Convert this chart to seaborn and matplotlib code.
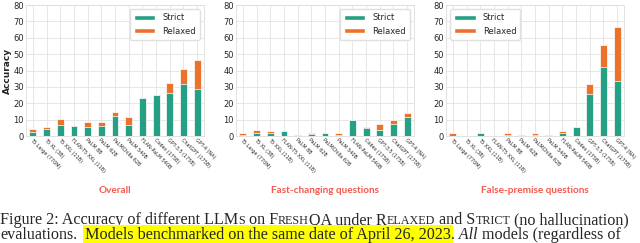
import matplotlib
matplotlib.use("Agg")
import matplotlib.pyplot as plt
import seaborn as sns
from matplotlib.patches import Patch

# Data
models = ["T5 Large (770M)", "T5 XL (3B)", "T5 XXL (11B)", "FLAN-T5 XXL (11B)",
          "PaLM 8B", "PaLM 62B", "PaLMChilla 62B", "PaLM 540B", "FLAN-PaLM 540B",
          "Codex (175B)", "GPT-3.5 (175B)", "ChatGPT (175B)", "GPT-4 (NA)"]

overall_strict = [2.4, 4.0, 6.6, 6.2, 5.2, 6.0, 12.0, 7.0, 23.0, 25.0, 26.0, 32.0, 28.6]
overall_relaxed = [4.2, 5.6, 10.4, 6.2, 8.4, 8.4, 14.8, 11.8, 23.0, 25.0, 32.4, 41.0, 46.4]

fast_strict = [0.8, 2.0, 2.0, 2.8, 0.4, 1.2, 2.0, 0.8, 10.0, 5.0, 3.6, 7.2, 11.6]
fast_relaxed = [1.6, 3.6, 2.8, 2.8, 0.4, 2.0, 2.0, 2.0, 10.0, 5.6, 7.6, 10.0, 14.0]

false_strict = [0.0, 0.0, 1.6, 0.0, 0.4, 0.4, 0.8, 0.4, 2.0, 5.2, 25.8, 42.4, 33.6]
false_relaxed = [1.6, 0.0, 1.6, 0.0, 1.6, 0.8, 1.6, 0.4, 3.0, 5.2, 32.0, 55.4, 66.6]

panel_titles = ["Overall", "Fast-changing questions", "False-premise questions"]

green = "#26a085"
orange = "#ec722c"
title_color = "#f25a50"

sns.set_theme(style="whitegrid")
plt.rcParams["font.family"] = ["DejaVu Sans"]

fig = plt.figure(figsize=(6.4, 2.43), dpi=100)

lefts = [26 / 640, 236 / 640, 446 / 640]
panels = [(overall_strict, overall_relaxed, "upper right"),
          (fast_strict, fast_relaxed, "upper right"),
          (false_strict, false_relaxed, "upper left")]

for i, (strict, relaxed, loc) in enumerate(panels):
    ax = fig.add_axes([lefts[i], 107 / 243, 178 / 640, 131 / 243])
    sns.barplot(x=models, y=relaxed, color=orange, width=0.5, ax=ax,
                edgecolor="white", linewidth=0.5, saturation=1)
    sns.barplot(x=models, y=strict, color=green, width=0.5, ax=ax,
                edgecolor="white", linewidth=0.5, saturation=1)
    ax.set_ylim(0, 80)
    ax.set_yticks(range(0, 81, 10))
    ax.tick_params(axis="y", labelsize=6, pad=1.5, length=0)
    ax.tick_params(axis="x", labelsize=3.5, pad=1, length=0)
    ax.set_xticks(range(len(models)))
    ax.set_xticklabels(models, rotation=-45, ha="left", rotation_mode="anchor")
    ax.grid(True, axis="both", color="#e3e3e3", linewidth=0.6)
    for s in ax.spines.values():
        s.set_color("#dddddd")
        s.set_linewidth(0.6)
    if i == 0:
        ax.set_ylabel("Accuracy", fontsize=6.5, fontweight="bold", labelpad=1)
    handles = [Patch(facecolor=green, edgecolor="white", label="Strict"),
               Patch(facecolor=orange, edgecolor="white", label="Relaxed")]
    ax.legend(handles=handles, loc=loc, fontsize=6, handlelength=2.6,
              handleheight=0.6, borderpad=0.5, labelspacing=0.5, framealpha=1,
              edgecolor="#e0e0e0")
    fig.text(lefts[i] + 89 / 640, 53 / 243, panel_titles[i], ha="center",
             va="center", color=title_color, fontsize=7.2, fontweight="bold",
             family="Lato")

# Caption with simulated small caps
renderer = fig.canvas.get_renderer()
base = 11.6
serif = "Liberation Serif"


def draw_runs(runs, x0, y):
    x = x0
    for text, scale, kw in runs:
        t = fig.text(x, y, text, fontsize=base * scale, family=serif,
                     va="baseline", ha="left", **kw)
        bb = t.get_window_extent(renderer)
        x = bb.x1 / fig.bbox.width


sc = 0.75
line1 = [("Figure 2: Accuracy of different LLM", 1, {}), ("S", sc, {}),
         (" on F", 1, {}), ("RESH", sc, {}), ("QA under R", 1, {}),
         ("ELAXED", sc, {}), (" and S", 1, {}), ("TRICT", sc, {}),
         (" (no hallucination)", 1, {})]
hl = dict(bbox=dict(boxstyle="square,pad=0.12", fc="#ffff00", ec="none"))
line2 = [("evaluations.", 1, {}), ("  ", 1, {}),
         ("Models benchmarked on the same date of April 26, 2023", 1, hl),
         (".", 1, {}), (" All", 1, {"style": "italic"}),
         (" models (regardless of", 1, {})]
draw_runs(line1, 0.0, 19 / 243)
draw_runs(line2, 0.0, 4 / 243)

fig.savefig("out.png", dpi=100)
